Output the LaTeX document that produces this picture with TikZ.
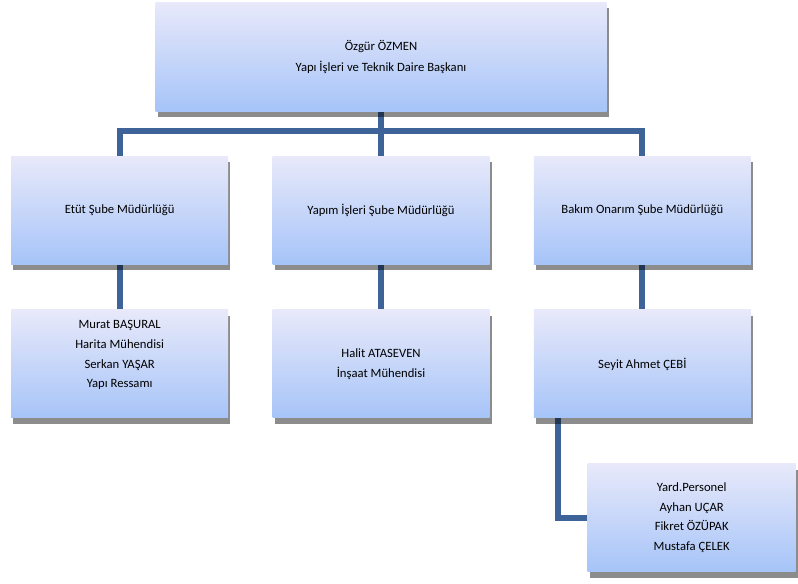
\documentclass[tikz,border=0pt]{standalone}
\usepackage{fontspec}
\setmainfont{Carlito}
\usetikzlibrary{positioning, shadows, backgrounds, calc}
\definecolor{boxtop}{RGB}{232,233,250}
\definecolor{boxbot}{RGB}{166,196,248}
\definecolor{linkblue}{RGB}{61,99,152}

\begin{document}
\begin{tikzpicture}[x=0.75pt,y=-0.75pt,node distance=115.3pt and 196pt,on grid,
		unit/.style={rectangle, top color=boxtop, bottom color=boxbot, minimum width=162.75pt, minimum height=81pt, align=center, font=\fontsize{9.5}{14.8}\selectfont, drop shadow={shadow xshift=1.5pt, shadow yshift=-4.5pt, fill=black, opacity=0.45}},
		link/.style={draw=linkblue, line width=4.5pt}]
			\useasboundingbox (0,0) rectangle (798,583);
			\node[unit, minimum width=338.25pt, minimum height=81.75pt, font=\fontsize{9.5}{15.75}\selectfont] (baskan) at (381,56.5) {Özgür ÖZMEN\\Yapı İşleri ve Teknik Daire Başkanı};
			\node[unit] (yapim) [below=of baskan] {Yapım İşleri Şube Müdürlüğü};
			\node[unit] (etut) [left=of yapim] {Etüt Şube Müdürlüğü};
			\node[unit] (bakim) [right=of yapim] {Bakım Onarım Şube Müdürlüğü};
			\node[unit] (murat) [below=of etut] {Murat BAŞURAL\\Harita Mühendisi\\Serkan YAŞAR\\Yapı Ressamı\\\mbox{}};
			\node[unit] (halit) [below=of yapim] {Halit ATASEVEN\\İnşaat Mühendisi};
			\node[unit, font=\fontsize{9.5}{15.75}\selectfont] (seyit) [below=of bakim] {Seyit Ahmet ÇEBİ};
			\node[unit, minimum width=156pt] (yard) [below right=115.3pt and 37pt of seyit] {Yard.Personel\\Ayhan UÇAR\\Fikret ÖZÜPAK\\Mustafa ÇELEK};
			\coordinate (bus) at ($(baskan.south)!0.45!(yapim.north)$);
			\begin{scope}[on background layer]
				\draw[link] (baskan.south) -- (yapim.north);
				\draw[link] (etut.north) |- (bus) -| (bakim.north);
				\draw[link] (etut.south) -- (murat.north);
				\draw[link] (yapim.south) -- (halit.north);
				\draw[link] (bakim.south) -- (seyit.north);
				\draw[link] ($(seyit.south west)+(24,0)$) |- (yard.west);
			\end{scope}
		\end{tikzpicture}
\end{document}
